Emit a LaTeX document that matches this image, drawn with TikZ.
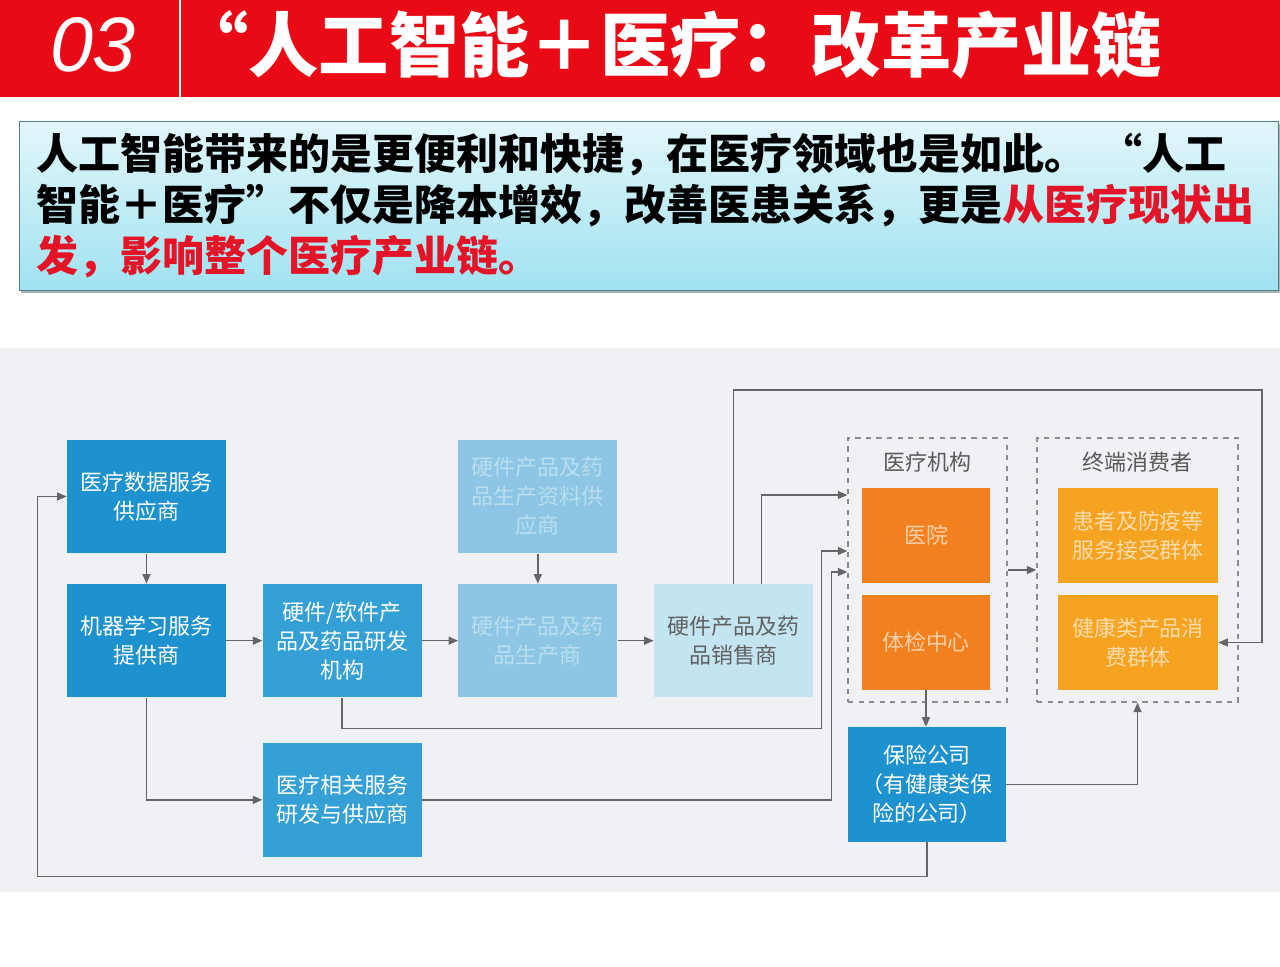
\documentclass[tikz,border=0pt]{standalone}
\usepackage{fontspec}
\setmainfont{Noto Sans CJK SC}
\newfontfamily\numfont{Liberation Sans}
\usepackage{tikz}
\usetikzlibrary{arrows.meta, positioning, calc, shadows}
\definecolor{cRed}{RGB}{234,10,22}
\definecolor{cTxtRed}{RGB}{228,20,40}
\definecolor{cBg}{RGB}{240,241,244}
\definecolor{cBlueA}{RGB}{30,146,206}
\definecolor{cBlueB}{RGB}{52,160,214}
\definecolor{cBlueC}{RGB}{140,198,228}
\definecolor{cBlueD}{RGB}{196,228,242}
\definecolor{cOrangeA}{RGB}{243,128,30}
\definecolor{cOrangeB}{RGB}{247,163,34}
\definecolor{cLine}{RGB}{100,100,106}
\definecolor{cDash}{RGB}{140,140,144}
\definecolor{cBoxTop}{RGB}{226,247,251}
\definecolor{cBoxBot}{RGB}{160,226,240}
\tikzset{
	blk/.style     ={rectangle, minimum width=3.18cm, minimum height=2.27cm, inner sep=2pt, align=center, text=white, fill=cBlueA, font=\fontsize{12.5}{16.5}\selectfont},
	blkpale/.style ={blk, fill=cBlueC, text=white!40!cBlueC},
	orgblk/.style  ={blk, minimum width=2.56cm, minimum height=1.9cm, fill=cOrangeA, text=white!62!cOrangeA},
	grp/.style     ={rectangle, draw=cDash, dashed, line width=0.8pt, minimum width=3.18cm, minimum height=5.28cm},
	grptitle/.style={inner sep=0pt, text=black!65, font=\fontsize{12.5}{15}\selectfont},
	link/.style    ={-{Triangle[length=1.9mm, width=1.6mm]}, cLine, line width=0.8pt},
}

\begin{document}
\begin{tikzpicture}[x=0.02cm, y=-0.02cm]
	\useasboundingbox (0,0) rectangle (1280,966);
	% header
	\node[fill=cRed, anchor=north west, minimum width=25.6cm, minimum height=1.94cm, inner sep=0pt] (bar) at (0,0) {};
	\draw[white, line width=1.2pt] (180,0) -- (180,97);
	\node[text=white, font=\numfont\itshape\fontsize{44}{44}\selectfont] (num) at (93,45) {03};
	\node[anchor=west, inner sep=0pt, text=white, font=\bfseries\fontsize{40}{42}\selectfont] (title) at (178,45) {“人工智能＋医疗：改革产业链};
	\node[anchor=north west, minimum width=25.18cm, minimum height=3.38cm, text width=24.5cm, inner xsep=0.32cm, align=left,
		draw=black!45!cBoxBot, top color=cBoxTop, bottom color=cBoxBot,
		drop shadow={shadow xshift=0.04cm, shadow yshift=-0.06cm, opacity=0.45, fill=black!60!cBoxBot},
		font=\bfseries\fontsize{23.9}{29}\selectfont] (intro) at (19,121)
		{人工智能带来的是更便利和快捷，在医疗领域也是如此。 “人工\\
		智能＋医疗”不仅是降本增效，改善医患关系，更是\textcolor{cTxtRed}{从医疗现状出}\\
		\textcolor{cTxtRed}{发，影响整个医疗产业链。}};
	% chain
	\fill[cBg] (0,348) rectangle (1280,892);
	\node[blk] (data) at (146.5,496.5) {医疗数据服务\\供应商};
	\node[blk, below=0.6cm of data] (ml) {机器学习服务\\提供商};
	\node[blk, fill=cBlueB, right=0.72cm of ml] (rnd) {硬件/软件产\\品及药品研发\\机构};
	\node[blkpale, right=0.72cm of rnd] (mfg) {硬件产品及药\\品生产商};
	\node[blkpale, above=0.6cm of mfg] (sup) {硬件产品及药\\品生产资料供\\应商};
	\node[blk, fill=cBlueD, text=black!62, right=0.72cm of mfg] (sale) {硬件产品及药\\品销售商};
	\node[blk, fill=cBlueB, below=0.9cm of rnd] (svc) {医疗相关服务\\研发与供应商};
	\node[grp] (grpA) at (927.5,570) {};
	\node[grptitle, below=0.28cm of grpA.north] (tA) {医疗机构};
	\node[orgblk] (hosp) at (926,535.5) {医院};
	\node[orgblk] (exam) at (926,642.5) {体检中心};
	\node[grp, minimum width=4.02cm] (grpB) at (1137.5,570) {};
	\node[grptitle, below=0.28cm of grpB.north] (tB) {终端消费者};
	\node[orgblk, minimum width=3.2cm, fill=cOrangeB, text=white!62!cOrangeB] (pat) at (1138,535.5) {患者及防疫等\\服务接受群体};
	\node[orgblk, minimum width=3.2cm, fill=cOrangeB, text=white!62!cOrangeB] (hlth) at (1138,642.5) {健康类产品消\\费群体};
	\node[blk, minimum width=3.16cm, minimum height=2.3cm] (ins) at (927,784.5) {保险公司\\（有健康类保\\险的公司）};
	\coordinate (topR) at (1262,390);
	\draw[link] (data) -- (ml);
	\draw[link] (ml) -- (rnd);
	\draw[link] (rnd) -- (mfg);
	\draw[link] (sup) -- (mfg);
	\draw[link] (mfg) -- (sale);
	\draw[link] (sale.north) |- (topR) |- (hlth.east);
	\draw[link] ([xshift=0.56cm]sale.north) |- ([yshift=1.5cm]grpA.west);
	\draw[link] (rnd.south) -- ++(0,31) -| ([xshift=-0.52cm, yshift=0.38cm]grpA.west) -- ([yshift=0.38cm]grpA.west);
	\draw[link] (svc.east) -| ([xshift=-0.32cm, yshift=-0.04cm]grpA.west) -- ([yshift=-0.04cm]grpA.west);
	\draw[link] (grpA) -- (grpB);
	\draw[link] (exam.south) -- (exam.south |- ins.north);
	\draw[link] (ins.east) -| (grpB.south);
	\draw[link] (ins.south) -- ++(0,34) -| ([xshift=-0.58cm]data.west) -- (data.west);
	\draw[link] (ml.south) |- (svc.west);
\end{tikzpicture}
\end{document}
